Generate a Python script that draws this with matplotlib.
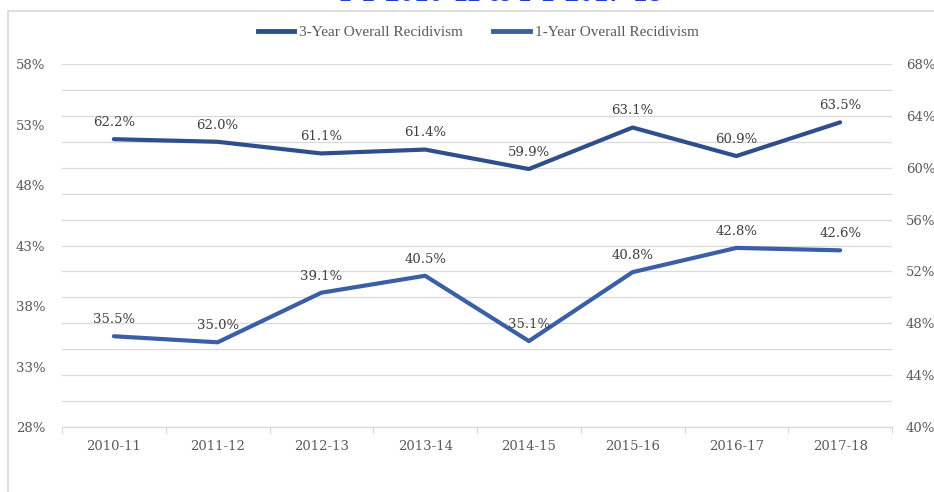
import matplotlib
matplotlib.use('Agg')
import matplotlib.pyplot as plt
import numpy as np
from matplotlib.lines import Line2D
from matplotlib.patches import Rectangle

# data
years = ['2010-11', '2011-12', '2012-13', '2013-14', '2014-15', '2015-16', '2016-17', '2017-18']
three_year = [62.2, 62.0, 61.1, 61.4, 59.9, 63.1, 60.9, 63.5]   # right axis
one_year = [35.5, 35.0, 39.1, 40.5, 35.1, 40.8, 42.8, 42.6]     # left axis
left_ticks = [28, 33, 38, 43, 48, 53, 58]
right_ticks = [40, 44, 48, 52, 56, 60, 64, 68]
title = 'FY 2010-11 to FY 2017-18'

c3 = '#2F4E8C'
c1 = '#3A5FA6'
grid_c = '#D9D9D9'
txt_c = '#595959'
lab_c = '#404040'

fig = plt.figure(figsize=(9.34, 4.92), dpi=100)
fig.patch.set_facecolor('white')

# chart frame (only top and left edges visible in the crop)
fig.patches.append(Rectangle((8 / 934, -0.1), 1.2, 1 - 11 / 492 + 0.1, transform=fig.transFigure,
                             fill=False, edgecolor=grid_c, lw=1.2))

# title, mostly cut off at the top
fig.text(501 / 934, 1 - 1 / 492, title, ha='center', va='baseline', color='#1F3FCC',
         fontsize=21, fontweight='bold', family='Liberation Serif')

ax = fig.add_axes([62 / 934, 1 - 427 / 492, 830 / 934, 363 / 492])
ax2 = ax.twinx()
ax.set_zorder(ax2.get_zorder() + 1)
ax.patch.set_visible(False)

x = np.arange(len(years))

# gridlines from right axis (every 2%)
for v in np.arange(40, 69, 2):
    ax2.axhline(v, color=grid_c, lw=0.9, zorder=0)

ax2.plot(x, three_year, color=c3, lw=3, solid_capstyle='round', zorder=3)
ax.plot(x, one_year, color=c1, lw=3, solid_capstyle='round', zorder=3)

for xi, v in zip(x, three_year):
    ax2.annotate(f'{v:.1f}%', (xi, v), xytext=(0, 12), textcoords='offset points',
                 ha='center', va='center', fontsize=9.5, color=lab_c, family='DejaVu Serif')
for xi, v in zip(x, one_year):
    ax.annotate(f'{v:.1f}%', (xi, v), xytext=(0, 12), textcoords='offset points',
                ha='center', va='center', fontsize=9.5, color=lab_c, family='DejaVu Serif')

ax.set_xlim(-0.5, len(years) - 0.5)
ax.set_ylim(28, 58)
ax2.set_ylim(40, 68)

ax.set_yticks(left_ticks)
ax.set_yticklabels([f'{t}%' for t in left_ticks])
ax2.set_yticks(right_ticks)
ax2.set_yticklabels([f'{t}%' for t in right_ticks])

ax.set_xticks(x)
ax.set_xticklabels(years)
ax.set_xticks(np.arange(-0.5, len(years), 1), minor=True)
ax.tick_params(axis='x', which='major', length=0, pad=9, labelsize=9.5, colors=txt_c)
ax.tick_params(axis='x', which='minor', length=4, width=0.9, color=grid_c)
ax.tick_params(axis='y', length=0, pad=12, labelsize=9.5, colors=txt_c)
ax2.tick_params(axis='y', length=0, pad=10, labelsize=9.5, colors=txt_c)
for lbl in ax.get_xticklabels() + ax.get_yticklabels() + ax2.get_yticklabels():
    lbl.set_family('DejaVu Serif')

for a in (ax, ax2):
    for s in a.spines.values():
        s.set_visible(False)
ax.spines['bottom'].set_visible(True)
ax.spines['bottom'].set_color(grid_c)
ax.spines['bottom'].set_linewidth(0.9)

handles = [Line2D([], [], color=c3, lw=3.5), Line2D([], [], color=c1, lw=3.5)]
fig.legend(handles, ['3-Year Overall Recidivism', '1-Year Overall Recidivism'],
           loc='center', bbox_to_anchor=(478 / 934, 1 - 32 / 492), ncol=2, frameon=False,
           handlelength=2.4, handletextpad=0.3, columnspacing=2.0,
           prop={'family': 'Liberation Serif', 'size': 11}, labelcolor=txt_c)

plt.savefig('out.png', dpi=100)
